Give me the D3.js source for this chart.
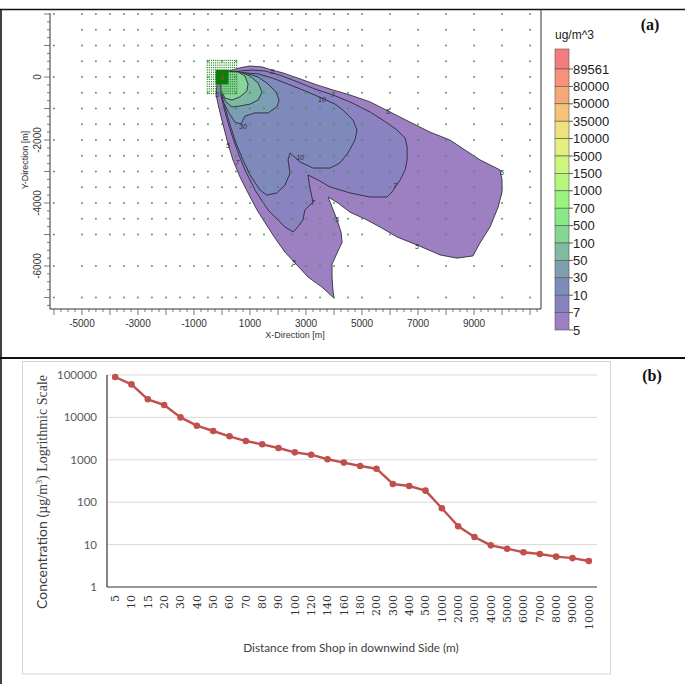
<!DOCTYPE html>
<html>
<head>
<meta charset="utf-8">
<script src="https://cdn.jsdelivr.net/npm/d3@7"></script>
<style>
body{margin:0;background:#fff}
svg{display:block}
</style>
</head>
<body>
<div id="chart"></div>
<script>
// ---------- panel (a) data : dispersion plume (metres) ----------
const plumeLevels=[5,7,10,30,50,100];
const plumeColors=['#9d80c2','#8b82c2','#7f89bb','#7b9eb2','#7cb8a2','#88d49a'];

const contour5=[[-40,0],[140,160],[640,290],[1000,350],[1430,320],[1790,220],[2180,130],[2790,-60],[3390,-250],
  [3960,-410],[4570,-570],[5290,-790],[6000,-1110],[6710,-1430],[7430,-1750],[8140,-2000],[8680,-2320],[9210,-2630],
  [9930,-2950],[10000,-3270],[10000,-3650],[9860,-4130],[9570,-4760],[9210,-5270],[8960,-5680],[8390,-5750],
  [7790,-5650],[6960,-5330],[6250,-5080],[5640,-4760],[5110,-4510],[4570,-4290],[4140,-4000],[3790,-3810],
  [3930,-4130],[4110,-4540],[4250,-4920],[4290,-5240],[4110,-5590],[3930,-5940],[3930,-6350],[3960,-6760],
  [4000,-7020],[3570,-6670],[3070,-6350],[2680,-5970],[2250,-5560],[1890,-5110],[1540,-4630],[1250,-4220],
  [930,-3680],[640,-3170],[390,-2630],[210,-2100],[40,-1520],[-110,-980],[-210,-570],[-180,-220]];
const contour7=[[0,-250],[140,100],[640,190],[1070,220],[1540,190],[2070,60],[2710,-160],[3320,-380],[3960,-570],
  [4570,-790],[5290,-1110],[5750,-1370],[6250,-1680],[6540,-1940],[6610,-2220],[6610,-2630],[6540,-2950],
  [6360,-3270],[6070,-3650],[5890,-3810],[5290,-3810],[4570,-3680],[3860,-3490],[3430,-3270],[3070,-3110],
  [3140,-3520],[3250,-3970],[2960,-4220],[2890,-4540],[2680,-4790],[2540,-4920],[2250,-4760],[1640,-4220],
  [1180,-3590],[820,-2950],[610,-2480],[390,-1940],[210,-1430],[70,-980],[-40,-570]];
const contour10=[[70,-250],[210,60],[820,130],[1290,100],[1790,-30],[2430,-250],[3070,-480],[3570,-670],
  [4040,-860],[4320,-1050],[4680,-1370],[4820,-1680],[4750,-2000],[4500,-2410],[4210,-2730],[3860,-2890],
  [3250,-2890],[2790,-2700],[2430,-2410],[2360,-2630],[2430,-3050],[2250,-3430],[1960,-3680],[1610,-3750],
  [1360,-3590],[1000,-3110],[750,-2630],[500,-2100],[290,-1520],[110,-980],[40,-570]];
const contour30=[[250,190],[820,130],[1290,0],[1640,-220],[1930,-480],[2040,-730],[1960,-950],[1640,-1140],
  [1180,-1140],[820,-1240],[680,-1490],[460,-1430],[250,-1140],[70,-830],[-40,-480]];
const contour50=[[210,160],[640,160],[1000,30],[1290,-190],[1430,-480],[1290,-730],[1000,-860],[640,-920],
  [360,-950],[140,-790],[0,-570],[-40,-250]];
const contour100=[[140,190],[570,160],[820,30],[930,-220],[890,-440],[640,-630],[360,-730],[110,-670],
  [-40,-410],[-40,-100]];
const contours=[contour5,contour7,contour10,contour30,contour50,contour100];

const contourLabels=[
  {x:1790,y:190,t:'5'},{x:3960,y:-570,t:'7'},{x:3570,y:-700,t:'10'},{x:5930,y:-1080,t:'5'},
  {x:10000,y:-3020,t:'5'},{x:6180,y:-3430,t:'7'},{x:6960,y:-5370,t:'5'},{x:4110,y:-4510,t:'5'},
  {x:3250,y:-3970,t:'7'},{x:2570,y:-5900,t:'5'},{x:2790,y:-2570,t:'10'},{x:750,y:-1560,t:'30'},
  {x:210,y:-2190,t:'5'},{x:540,y:-2700,t:'7'},{x:-180,y:-540,t:'5'}];

// receptor grid
const gridX=[-6000,-5000,-4500,-4000,-3500,-3000,-2500,-2000,-1500,-1000,-500,0,500,1000,1500,2000,2500,
  3000,3500,4000,4500,5000,6000,7000,8000,9000,10000,11000];
const gridY=[2000,1500,1000,500,0,-500,-1000,-1500,-2000,-2500,-3000,-3500,-4000,-4500,-5000,-6000,-7000];
const fineGrid=[-525,-450,-375,-300,-225,-150,-75,0,75,150,225,300,375,450,525];
const sourceHalf=230;

const xTicksA=[-5000,-3000,-1000,1000,3000,5000,7000,9000];
const yTicksA=[0,-2000,-4000,-6000];

const legendLevels=[89561,80000,50000,35000,10000,5000,1500,1000,700,500,100,50,30,10,7,5];
const legendColors=['#f47c7c','#f8907a','#f8a878','#f5c47a','#ece37d','#e2f07e','#cff57c','#b4f77b',
  '#9cf27f','#8be887','#85d693','#7fbba1','#7d9fae','#7e8cb9','#8682c0','#9a80c3'];

// ---------- panel (b) data ----------
const distances=['5','10','15','20','30','40','50','60','70','80','90','100','120','140','160','180','200',
  '300','400','500','1000','2000','3000','4000','5000','6000','7000','8000','9000','10000'];
const concentration=[89561,60000,26700,19600,10000,6380,4780,3580,2770,2320,1900,1500,1320,1030,860,714,617,
  269,241,187,72,27,15.1,9.6,8.0,6.6,6.0,5.2,4.8,4.1];
const yTicksB=[1,10,100,1000,10000,100000];

// ---------- svg ----------
const svg=d3.select('#chart').append('svg')
  .attr('width',685).attr('height',684).attr('viewBox','0 0 685 684');

// table borders
svg.append('line').attr('x1',0).attr('x2',685).attr('y1',9.5).attr('y2',9.5).attr('stroke','#111').attr('stroke-width',1.6);
svg.append('line').attr('x1',0).attr('x2',685).attr('y1',358).attr('y2',358).attr('stroke','#111').attr('stroke-width',2);
svg.append('line').attr('x1',1).attr('x2',1).attr('y1',9).attr('y2',684).attr('stroke','#111').attr('stroke-width',1.6);

// ================= panel (a) =================
const xA=d3.scaleLinear().domain([-6140,11390]).range([50,541]);
const yA=d3.scaleLinear().domain([-7365,2032]).range([309,13]);
const gA=svg.append('g');

const poly=d3.line().x(d=>xA(d[0])).y(d=>yA(d[1])).curve(d3.curveLinearClosed);
gA.append('g').selectAll('path').data(contours).join('path')
  .attr('d',poly)
  .attr('fill',(d,i)=>plumeColors[i])
  .attr('stroke','#1e1e2a').attr('stroke-width',0.8).attr('stroke-linejoin','round');

gA.append('g').selectAll('text').data(contourLabels).join('text')
  .attr('x',d=>xA(d.x)).attr('y',d=>yA(d.y)+2.5)
  .attr('text-anchor','middle')
  .attr('font-family','Liberation Sans, Arial, sans-serif').attr('font-size',7).attr('font-style','italic')
  .attr('fill','#2a2a3a').text(d=>d.t);

// receptor dots
const pts=[];
gridY.forEach(gy=>gridX.forEach(gx=>{
  if(gx===-6000 && gy%1000!==0) return;
  pts.push([gx,gy]);
}));
gA.append('g').selectAll('circle').data(pts).join('circle')
  .attr('cx',d=>xA(d[0])).attr('cy',d=>yA(d[1])).attr('r',0.9).attr('fill','#3b9a3b');

const finePts=[];
fineGrid.forEach(fy=>fineGrid.forEach(fx=>finePts.push([fx,fy])));
gA.append('g').selectAll('rect').data(finePts).join('rect')
  .attr('x',d=>xA(d[0])-0.6).attr('y',d=>yA(d[1])-0.6).attr('width',1.2).attr('height',1.2).attr('fill','#2f8a2f');

gA.append('rect')
  .attr('x',xA(-sourceHalf)).attr('y',yA(sourceHalf))
  .attr('width',xA(sourceHalf)-xA(-sourceHalf)).attr('height',yA(-sourceHalf)-yA(sourceHalf))
  .attr('fill','#0b7d0b');
gA.append('text').attr('x',xA(0)).attr('y',yA(0)+2.5).attr('text-anchor','middle')
  .attr('font-family','Liberation Sans, Arial, sans-serif').attr('font-size',7).attr('fill','#a0522d').text('0');

// axes (a)
const axA=gA.append('g').attr('stroke','#333').attr('stroke-width',1);
axA.append('line').attr('x1',50).attr('x2',50).attr('y1',13).attr('y2',309);
axA.append('line').attr('x1',50).attr('x2',541).attr('y1',309).attr('y2',309);
axA.append('line').attr('x1',541).attr('x2',541).attr('y1',9).attr('y2',309);

const xMinor=d3.range(-6000,11400,250), yMinor=d3.range(-7250,2001,250);
axA.append('g').attr('stroke','#555').attr('stroke-width',0.8).selectAll('line').data(xMinor).join('line')
  .attr('x1',d=>xA(d)).attr('x2',d=>xA(d)).attr('y1',309).attr('y2',d=>d%1000===0?315:312);
axA.append('g').attr('stroke','#555').attr('stroke-width',0.8).selectAll('line').data(yMinor).join('line')
  .attr('y1',d=>yA(d)).attr('y2',d=>yA(d)).attr('x1',50).attr('x2',d=>d%1000===0?44:47);

const tickFontA='Liberation Sans, Arial, sans-serif';
gA.append('g').selectAll('text').data(xTicksA).join('text')
  .attr('x',d=>xA(d)).attr('y',327).attr('text-anchor','middle')
  .attr('font-family',tickFontA).attr('font-size',10).attr('fill','#333').text(d=>d);
gA.append('g').selectAll('text').data(yTicksA).join('text')
  .attr('transform',d=>`translate(41,${yA(d)}) rotate(-90)`).attr('text-anchor','middle')
  .attr('font-family',tickFontA).attr('font-size',10).attr('fill','#333').text(d=>d);
gA.append('text').attr('x',295).attr('y',338).attr('text-anchor','middle')
  .attr('font-family',tickFontA).attr('font-size',9).attr('fill','#333').text('X-Direction [m]');
gA.append('text').attr('transform','translate(28,160) rotate(-90)').attr('text-anchor','middle')
  .attr('font-family',tickFontA).attr('font-size',9).attr('fill','#333').text('Y-Direction [m]');

// legend (a)
const legY=d3.scaleLinear().domain([0,legendLevels.length-1]).range([69,330]);
const step=legY(1)-legY(0);
const leg=svg.append('g');
leg.append('text').attr('x',555).attr('y',39).attr('font-family',tickFontA).attr('font-size',12)
  .attr('fill','#222').text('ug/m^3');
leg.selectAll('rect.seg').data(legendColors).join('rect').attr('class','seg')
  .attr('x',555).attr('width',14)
  .attr('y',(d,i)=>i===0?49:legY(i-1))
  .attr('height',(d,i)=>i===0?legY(0)-49:step)
  .attr('fill',d=>d).attr('stroke','#555').attr('stroke-width',0.6);
leg.selectAll('line.tk').data(legendLevels).join('line').attr('class','tk')
  .attr('x1',569).attr('x2',573).attr('y1',(d,i)=>legY(i)).attr('y2',(d,i)=>legY(i))
  .attr('stroke','#333').attr('stroke-width',0.8);
leg.selectAll('text.lb').data(legendLevels).join('text').attr('class','lb')
  .attr('x',573).attr('y',(d,i)=>legY(i)+4.5)
  .attr('font-family',tickFontA).attr('font-size',13).attr('fill','#222').text(d=>d);

svg.append('text').attr('x',650).attr('y',30).attr('text-anchor','middle')
  .attr('font-family','Liberation Serif, Times New Roman, serif').attr('font-weight','bold').attr('font-size',16)
  .attr('fill','#111').text('(a)');

// ================= panel (b) =================
const gB=svg.append('g');
gB.append('rect').attr('x',22.5).attr('y',361.5).attr('width',588).attr('height',312.5)
  .attr('fill','none').attr('stroke','#d4d4d4').attr('stroke-width',1);

const xB=d3.scaleBand().domain(distances).range([107,597]);
const yB=d3.scaleLog().domain([1,100000]).range([587,375]);

gB.append('g').selectAll('line').data(yTicksB.slice(1)).join('line')
  .attr('x1',107).attr('x2',597).attr('y1',d=>yB(d)).attr('y2',d=>yB(d))
  .attr('stroke','#d9d9d9').attr('stroke-width',1);
gB.append('line').attr('x1',107).attr('x2',107).attr('y1',375).attr('y2',587).attr('stroke','#333').attr('stroke-width',1.2);
gB.append('line').attr('x1',107).attr('x2',597).attr('y1',587).attr('y2',587).attr('stroke','#333').attr('stroke-width',1.2);

gB.append('g').selectAll('text').data(yTicksB).join('text')
  .attr('x',97).attr('y',d=>yB(d)+4).attr('text-anchor','end')
  .attr('font-family','Lato, Open Sans, sans-serif').attr('font-size',11.5).attr('fill','#595959').text(d=>d);

gB.append('g').selectAll('text').data(distances).join('text')
  .attr('transform',d=>`translate(${xB(d)+xB.bandwidth()/2},595) rotate(-90)`)
  .attr('text-anchor','end').attr('dy','0.35em')
  .attr('font-family','DejaVu Serif, serif').attr('font-size',11).attr('fill','#333').text(d=>d);

const series=distances.map((d,i)=>({d,v:concentration[i]}));
const lineB=d3.line().x(p=>xB(p.d)+xB.bandwidth()/2).y(p=>yB(p.v));
gB.append('path').datum(series).attr('d',lineB).attr('fill','none')
  .attr('stroke','#c0504d').attr('stroke-width',2.4).attr('stroke-linejoin','round');
gB.append('g').selectAll('circle').data(series).join('circle')
  .attr('cx',p=>xB(p.d)+xB.bandwidth()/2).attr('cy',p=>yB(p.v)).attr('r',3.3).attr('fill','#c0504d');

gB.append('text').attr('x',351).attr('y',652).attr('text-anchor','middle')
  .attr('font-family','Lato, Open Sans, sans-serif').attr('font-size',11.8).attr('fill','#404040')
  .text('Distance from Shop in downwind Side (m)');

const yt=gB.append('text').attr('transform','translate(47,492) rotate(-90)').attr('text-anchor','middle')
  .attr('font-size',14).attr('fill','#404040');
yt.append('tspan').attr('font-family','Lato, Open Sans, sans-serif').text('Concentration (');
yt.append('tspan').attr('font-family','Liberation Serif, Times New Roman, serif').text('µg/m');
yt.append('tspan').attr('font-family','Liberation Serif, Times New Roman, serif').attr('font-size',8).attr('dy',-5).text('3');
yt.append('tspan').attr('font-family','Liberation Serif, Times New Roman, serif').attr('dy',5).text(') Logrithmic Scale');

svg.append('text').attr('x',652).attr('y',381).attr('text-anchor','middle')
  .attr('font-family','Liberation Serif, Times New Roman, serif').attr('font-weight','bold').attr('font-size',16)
  .attr('fill','#111').text('(b)');
</script>
</body>
</html>
